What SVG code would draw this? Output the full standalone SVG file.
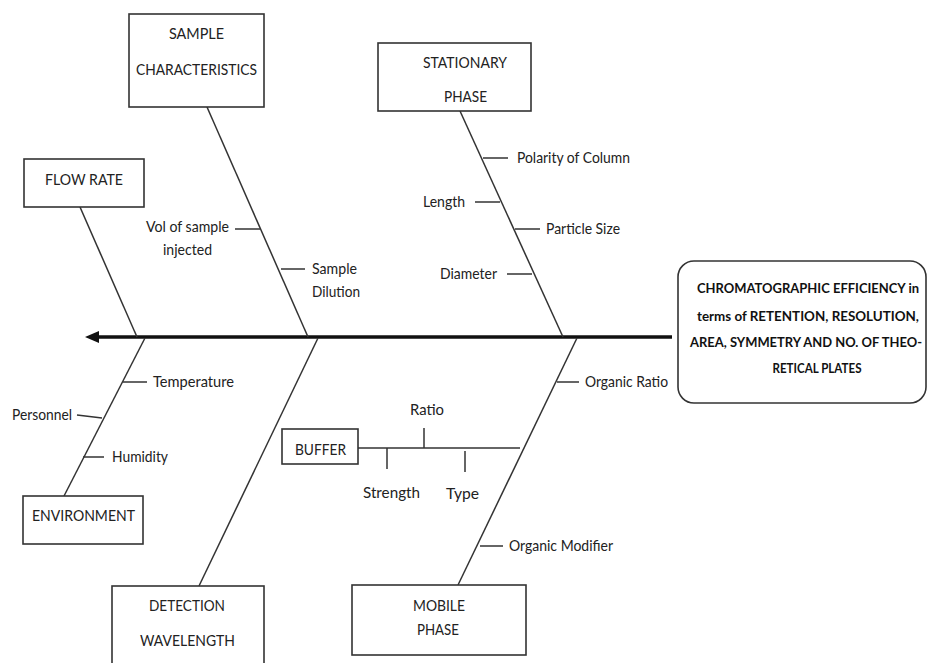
<svg xmlns="http://www.w3.org/2000/svg" width="929" height="663" viewBox="0 0 929 663">
<style>
.box{fill:#fff;stroke:#333;stroke-width:1.6}
.ln{stroke:#333;stroke-width:1.5;fill:none}
.t{font-family:Lato,"Liberation Sans",sans-serif;font-size:16px;fill:#222}
.s{font-family:Lato,"Liberation Sans",sans-serif;font-size:15px;fill:#222}
.b{font-family:Lato,"Liberation Sans",sans-serif;font-size:13px;font-weight:bold;fill:#111;text-anchor:middle}
</style>
<rect width="929" height="663" fill="#fff"/>
<g id="connectors">
<line x1="672" y1="337" x2="96" y2="337" stroke="#111" stroke-width="3.5"/>
<polygon points="85,337 99,331 99,343" fill="#111"/>
<line class="ln" x1="80" y1="207" x2="137" y2="337"/>
<line class="ln" x1="207" y1="107" x2="308" y2="337"/>
<line class="ln" x1="460" y1="111" x2="563" y2="337"/>
<line class="ln" x1="145" y1="338" x2="64" y2="496"/>
<line class="ln" x1="318" y1="338" x2="199" y2="586"/>
<line class="ln" x1="577" y1="338" x2="458" y2="585"/>
<line class="ln" x1="235" y1="229" x2="260" y2="229"/>
<line class="ln" x1="281" y1="269" x2="305" y2="269"/>
<line class="ln" x1="483" y1="158" x2="508" y2="158"/>
<line class="ln" x1="475" y1="202" x2="500" y2="202"/>
<line class="ln" x1="515" y1="229" x2="540" y2="229"/>
<line class="ln" x1="507" y1="274" x2="532" y2="274"/>
<line class="ln" x1="123" y1="382" x2="147" y2="382"/>
<line class="ln" x1="77" y1="415" x2="102" y2="418"/>
<line class="ln" x1="83" y1="457" x2="104" y2="457"/>
<line class="ln" x1="358" y1="448" x2="520" y2="448"/>
<line class="ln" x1="387" y1="448" x2="387" y2="469"/>
<line class="ln" x1="424" y1="428" x2="424" y2="448"/>
<line class="ln" x1="465" y1="451" x2="465" y2="472"/>
<line class="ln" x1="557" y1="382" x2="579" y2="382"/>
<line class="ln" x1="480" y1="546" x2="503" y2="546"/>
</g>
<g id="labels">
<text class="s" x="146" y="232" textLength="83" lengthAdjust="spacingAndGlyphs">Vol of sample</text>
<text class="s" x="163" y="255" textLength="49" lengthAdjust="spacingAndGlyphs">injected</text>
<text class="s" x="312" y="274" textLength="45" lengthAdjust="spacingAndGlyphs">Sample</text>
<text class="s" x="312" y="297" textLength="48" lengthAdjust="spacingAndGlyphs">Dilution</text>
<text class="s" x="517" y="163" textLength="113" lengthAdjust="spacingAndGlyphs">Polarity of Column</text>
<text class="s" x="423" y="207" textLength="42" lengthAdjust="spacingAndGlyphs">Length</text>
<text class="s" x="546" y="234" textLength="74" lengthAdjust="spacingAndGlyphs">Particle Size</text>
<text class="s" x="440" y="279" textLength="57" lengthAdjust="spacingAndGlyphs">Diameter</text>
<text class="s" x="153" y="387" textLength="81" lengthAdjust="spacingAndGlyphs">Temperature</text>
<text class="s" x="12" y="420" textLength="60" lengthAdjust="spacingAndGlyphs">Personnel</text>
<text class="s" x="112" y="462" textLength="56" lengthAdjust="spacingAndGlyphs">Humidity</text>
<text class="s" x="410" y="415" textLength="34" lengthAdjust="spacingAndGlyphs">Ratio</text>
<text class="s" x="363" y="498" textLength="57" lengthAdjust="spacingAndGlyphs">Strength</text>
<text class="s" x="446" y="499" textLength="33" lengthAdjust="spacingAndGlyphs">Type</text>
<text class="s" x="585" y="387" textLength="83" lengthAdjust="spacingAndGlyphs">Organic Ratio</text>
<text class="s" x="509" y="551" textLength="104" lengthAdjust="spacingAndGlyphs">Organic Modifier</text>
</g>
<g id="sample-characteristics">
<rect class="box" x="129" y="14" width="135" height="93"/>
<text class="t" x="169" y="39" textLength="55" lengthAdjust="spacingAndGlyphs">SAMPLE</text>
<text class="t" x="136" y="75" textLength="121" lengthAdjust="spacingAndGlyphs">CHARACTERISTICS</text>
</g>
<g id="stationary-phase">
<rect class="box" x="378" y="43" width="153" height="68"/>
<text class="t" x="423" y="68" textLength="84" lengthAdjust="spacingAndGlyphs">STATIONARY</text>
<text class="t" x="444" y="102" textLength="43" lengthAdjust="spacingAndGlyphs">PHASE</text>
</g>
<g id="flow-rate">
<rect class="box" x="24" y="159" width="120" height="48"/>
<text class="t" x="45" y="185" textLength="78" lengthAdjust="spacingAndGlyphs">FLOW RATE</text>
</g>
<g id="environment">
<rect class="box" x="23" y="496" width="120" height="48"/>
<text class="t" x="32" y="521" textLength="103" lengthAdjust="spacingAndGlyphs">ENVIRONMENT</text>
</g>
<g id="buffer">
<rect class="box" x="282" y="429" width="76" height="35"/>
<text class="t" x="295" y="455" textLength="51" lengthAdjust="spacingAndGlyphs">BUFFER</text>
</g>
<g id="detection-wavelength">
<rect class="box" x="112" y="586" width="152" height="90"/>
<text class="t" x="149" y="611" textLength="76" lengthAdjust="spacingAndGlyphs">DETECTION</text>
<text class="t" x="140" y="646" textLength="95" lengthAdjust="spacingAndGlyphs">WAVELENGTH</text>
</g>
<g id="mobile-phase">
<rect class="box" x="352" y="585" width="174" height="70"/>
<text class="t" x="413" y="611" textLength="52" lengthAdjust="spacingAndGlyphs">MOBILE</text>
<text class="t" x="417" y="635" textLength="42" lengthAdjust="spacingAndGlyphs">PHASE</text>
</g>
<g id="chromatographic-efficiency">
<rect class="box" x="678" y="261" width="248" height="142" rx="16"/>
<text class="b" x="808" y="293" textLength="222" lengthAdjust="spacingAndGlyphs">CHROMATOGRAPHIC EFFICIENCY in</text>
<text class="b" x="808" y="321" textLength="222" lengthAdjust="spacingAndGlyphs">terms of RETENTION, RESOLUTION,</text>
<text class="b" x="806" y="347" textLength="232" lengthAdjust="spacingAndGlyphs">AREA, SYMMETRY AND NO. OF THEO-</text>
<text class="b" x="817" y="373" textLength="89" lengthAdjust="spacingAndGlyphs">RETICAL PLATES</text>
</g>
</svg>
